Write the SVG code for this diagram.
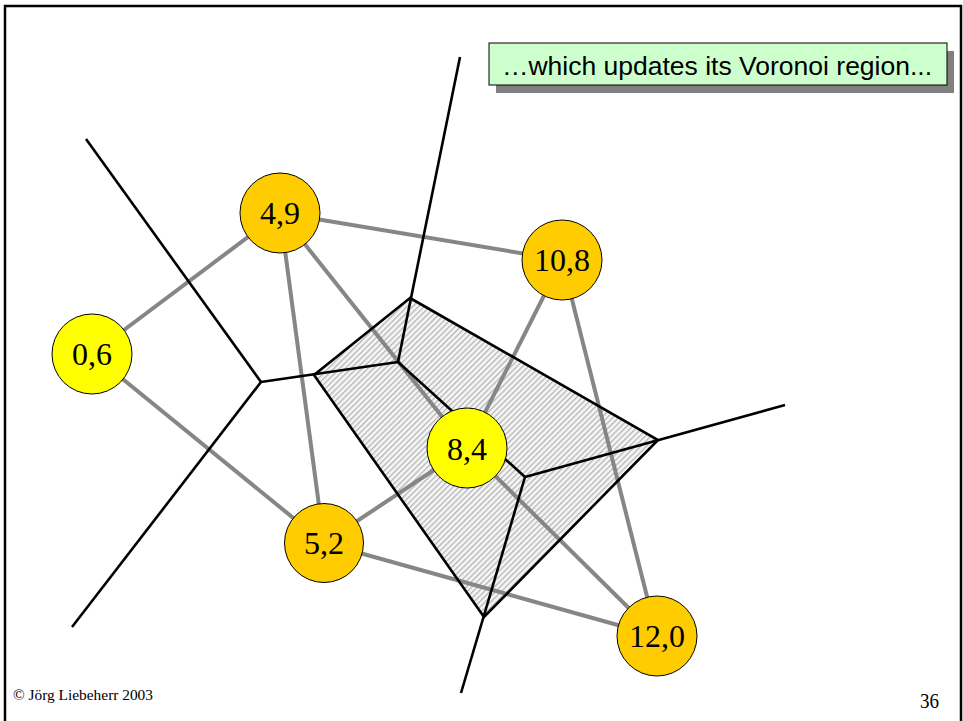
<svg xmlns="http://www.w3.org/2000/svg" width="963" height="721" viewBox="0 0 963 721">
  <style>
    .delaunay { stroke: #868686; stroke-width: 4; fill: none; stroke-linecap: butt; }
    .voronoi { stroke: #000; stroke-width: 2.6; fill: none; stroke-linejoin: miter; }
    .site { stroke: #000; stroke-width: 1; }
    .old { fill: #ffcc00; }
    .new { fill: #ffff00; }
    .site-label { font-family: "Liberation Serif", "Times New Roman", serif; font-size: 32px; text-anchor: middle; fill: #000; }
    .callout-text { font-family: "Liberation Sans", Arial, sans-serif; font-size: 26.5px; text-anchor: middle; fill: #000; }
    .footer { font-family: "Liberation Serif", "Times New Roman", serif; fill: #000; }
  </style>
  <defs>
    <pattern id="hatch" patternUnits="userSpaceOnUse" width="4" height="4" patternTransform="rotate(-45)">
      <rect width="4" height="4" fill="#f6f6f6"/>
      <rect y="0" width="4" height="1.3" fill="#b4b4b4"/>
    </pattern>
  </defs>

  <rect width="963" height="721" fill="#fff"/>
  <!-- slide frame -->
  <rect x="5" y="6" width="956" height="740" fill="none" stroke="#000" stroke-width="2.5"/>

  <!-- updated Voronoi cell of the new site -->
  <g id="cell">
    <polygon points="410,298 658,440 484,617 314,375" fill="url(#hatch)"/>
  </g>

  <g id="connectors">
    <!-- Delaunay edges -->
    <line class="delaunay" x1="92" y1="354" x2="280" y2="213"/>
    <line class="delaunay" x1="92" y1="354" x2="324" y2="543"/>
    <line class="delaunay" x1="280" y1="213" x2="562" y2="260"/>
    <line class="delaunay" x1="280" y1="213" x2="324" y2="543"/>
    <line class="delaunay" x1="280" y1="213" x2="467" y2="448"/>
    <line class="delaunay" x1="562" y1="260" x2="467" y2="448"/>
    <line class="delaunay" x1="562" y1="260" x2="657" y2="636"/>
    <line class="delaunay" x1="324" y1="543" x2="467" y2="448"/>
    <line class="delaunay" x1="324" y1="543" x2="657" y2="636"/>
    <line class="delaunay" x1="467" y1="448" x2="657" y2="636"/>

    <!-- Voronoi edges -->
    <line class="voronoi" x1="86" y1="139" x2="261" y2="382"/>
    <line class="voronoi" x1="261" y1="382" x2="72" y2="627"/>
    <line class="voronoi" x1="261" y1="382" x2="398" y2="362"/>
    <line class="voronoi" x1="460" y1="57" x2="398" y2="362"/>
    <line class="voronoi" x1="398" y1="362" x2="525" y2="477"/>
    <line class="voronoi" x1="525" y1="477" x2="785" y2="405"/>
    <line class="voronoi" x1="525" y1="477" x2="461" y2="693"/>
    <polygon class="voronoi" points="410,298 658,440 484,617 314,375"/>
  </g>

  <g id="n06">
    <circle class="site new" cx="92" cy="354" r="40"/>
    <text class="site-label" x="92" y="365">0,6</text>
  </g>
  <g id="n49">
    <circle class="site old" cx="280" cy="213" r="40"/>
    <text class="site-label" x="280" y="224">4,9</text>
  </g>
  <g id="n108">
    <circle class="site old" cx="562" cy="260" r="40"/>
    <text class="site-label" x="562" y="271">10,8</text>
  </g>
  <g id="n84">
    <circle class="site new" cx="467" cy="448" r="40"/>
    <text class="site-label" x="467" y="460">8,4</text>
  </g>
  <g id="n52">
    <circle class="site old" cx="324" cy="543" r="39.5"/>
    <text class="site-label" x="324" y="554">5,2</text>
  </g>
  <g id="n120">
    <circle class="site old" cx="657" cy="636" r="40"/>
    <text class="site-label" x="657" y="647">12,0</text>
  </g>

  <g id="callout">
    <rect x="496" y="51" width="458" height="42" fill="#808080"/>
    <rect x="489" y="43" width="458" height="42" fill="#ccffcc" stroke="#000" stroke-width="1"/>
    <text class="callout-text" x="717" y="75">…which updates its Voronoi region...</text>
  </g>

  <g id="footer">
    <text class="footer" x="13" y="700" font-size="14" textLength="140" lengthAdjust="spacingAndGlyphs">© Jörg Liebeherr 2003</text>
    <text class="footer" x="920" y="708" font-size="21" textLength="19" lengthAdjust="spacingAndGlyphs">36</text>
  </g>
</svg>
